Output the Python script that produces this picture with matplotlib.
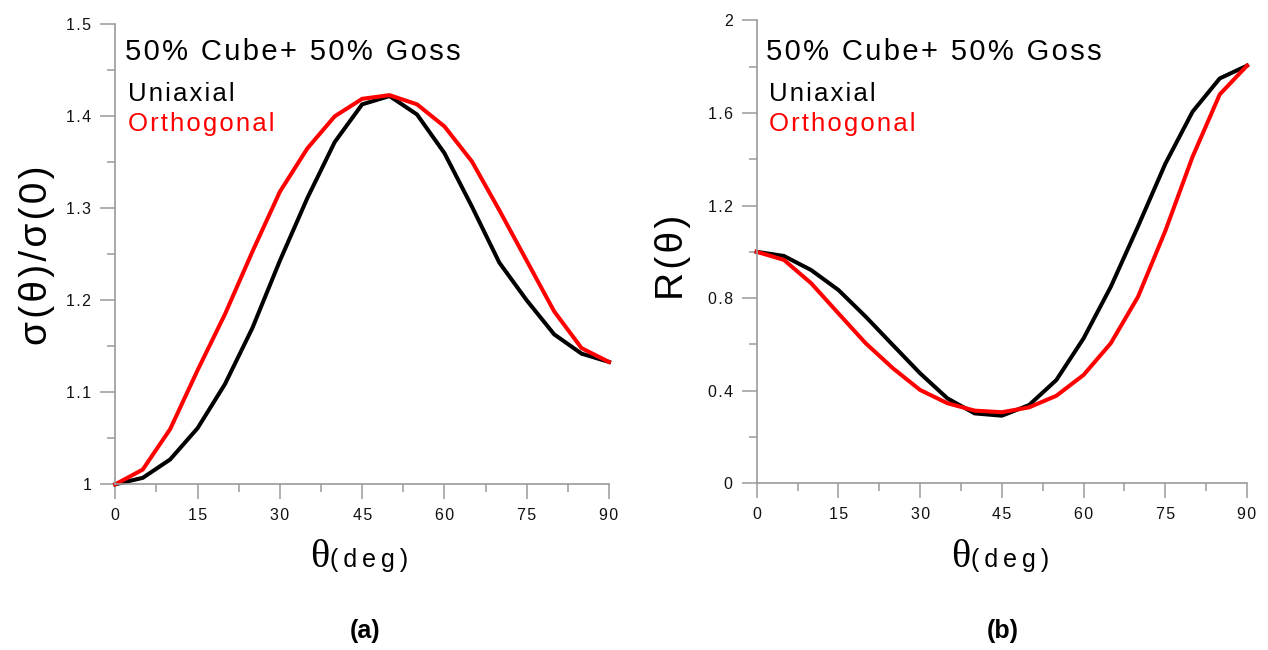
import numpy as np
import matplotlib
matplotlib.use("Agg")
import matplotlib.pyplot as plt
from matplotlib.ticker import MultipleLocator, FuncFormatter

W, H = 1268, 650

theta = [0, 5, 10, 15, 20, 25, 30, 35, 40, 45, 50, 55, 60, 65, 70, 75, 80, 85, 90]

# (a) sigma(theta)/sigma(0)
sig_uniaxial = [1.000, 1.007, 1.027, 1.061, 1.109, 1.170, 1.243, 1.311, 1.372, 1.413,
                1.422, 1.402, 1.360, 1.302, 1.241, 1.200, 1.163, 1.142, 1.133]
sig_orthogonal = [1.000, 1.016, 1.060, 1.124, 1.185, 1.253, 1.318, 1.365, 1.400, 1.419,
                  1.423, 1.413, 1.389, 1.351, 1.298, 1.243, 1.188, 1.148, 1.133]

# (b) R(theta)
r_uniaxial = [1.000, 0.982, 0.921, 0.835, 0.720, 0.597, 0.475, 0.367, 0.302, 0.292,
              0.338, 0.446, 0.626, 0.849, 1.110, 1.380, 1.605, 1.749, 1.804]
r_orthogonal = [1.000, 0.965, 0.864, 0.734, 0.605, 0.497, 0.403, 0.346, 0.314, 0.307,
                0.328, 0.378, 0.468, 0.605, 0.806, 1.090, 1.410, 1.680, 1.804]

title_txt = "50% Cube+ 50% Goss"
names = ["Uniaxial", "Orthogonal"]
colors = ["black", "red"]

SANS = ["Liberation Sans", "DejaVu Sans"]
SERIF = ["Liberation Serif", "DejaVu Serif"]
plt.rcParams["font.family"] = SANS


def sp(s, gap="\u200a"):
    # poor man's letter spacing
    return gap.join(s)


def px(x, y):
    return x / W, 1 - y / H


tick_fmt = FuncFormatter(lambda v, pos: sp("%g" % round(v, 3)))

fig = plt.figure(figsize=(W / 100, H / 100), dpi=100)

ax1 = fig.add_axes([115.3 / W, 1 - 484.3 / H, 493.7 / W, 460 / H])
ax2 = fig.add_axes([756.7 / W, 1 - 483.3 / H, 490.3 / W, 463 / H])

for ax, ys, ylim, ymaj, ymin in [
        (ax1, (sig_uniaxial, sig_orthogonal), (1, 1.5), 0.1, 0.05),
        (ax2, (r_uniaxial, r_orthogonal), (0, 2), 0.4, 0.2)]:
    for y, c in zip(ys, colors):
        ax.plot(theta, y, color=c, lw=2.9, clip_on=False)
    ax.set_xlim(0, 90)
    ax.set_ylim(*ylim)
    ax.xaxis.set_major_locator(MultipleLocator(15))
    ax.xaxis.set_minor_locator(MultipleLocator(7.5))
    ax.yaxis.set_major_locator(MultipleLocator(ymaj))
    ax.yaxis.set_minor_locator(MultipleLocator(ymin))
    ax.xaxis.set_major_formatter(tick_fmt)
    ax.yaxis.set_major_formatter(tick_fmt)
    for s in ["top", "right"]:
        ax.spines[s].set_visible(False)
    for s in ["left", "bottom"]:
        ax.spines[s].set_color("#9a9a9a")
        ax.spines[s].set_linewidth(1.2)
    ax.tick_params(which="major", length=10.8, width=1.1, color="#9a9a9a",
                   pad=6.5, labelsize=11.5, labelcolor="#111111")
    ax.tick_params(which="minor", length=5.5, width=1.1, color="#9a9a9a")

# in-plot annotations
for x0 in (125, 766):
    fig.text(*px(x0, 60), sp(title_txt), fontsize=21, color="black", va="baseline")
    fig.text(*px(x0 + 3, 101), sp(names[0]), fontsize=18.5, color=colors[0], va="baseline")
    fig.text(*px(x0 + 3, 130.5), sp(names[1]), fontsize=18.5, color=colors[1], va="baseline")

# x labels
for xm in (329, 970):
    fig.text(*px(xm, 567), "\u03b8", fontsize=29, family=SERIF, ha="right", va="baseline")
    fig.text(*px(xm + 1, 567), sp("(deg)", "\u2009"), fontsize=18, ha="left", va="baseline")

# y labels
fig.text(*px(37, 255), sp("\u03c3(\u03b8)/\u03c3(0)"), fontsize=28, rotation=90,
         ha="center", va="center")
fig.text(*px(673, 257), sp("R(\u03b8)"), fontsize=28, rotation=90,
         ha="center", va="center")

# panel labels
fig.text(*px(365, 631), "(a)", fontsize=18, fontweight="bold", ha="center", va="center")
fig.text(*px(1003, 631), "(b)", fontsize=18, fontweight="bold", ha="center", va="center")

fig.savefig("out.png", dpi=100)
